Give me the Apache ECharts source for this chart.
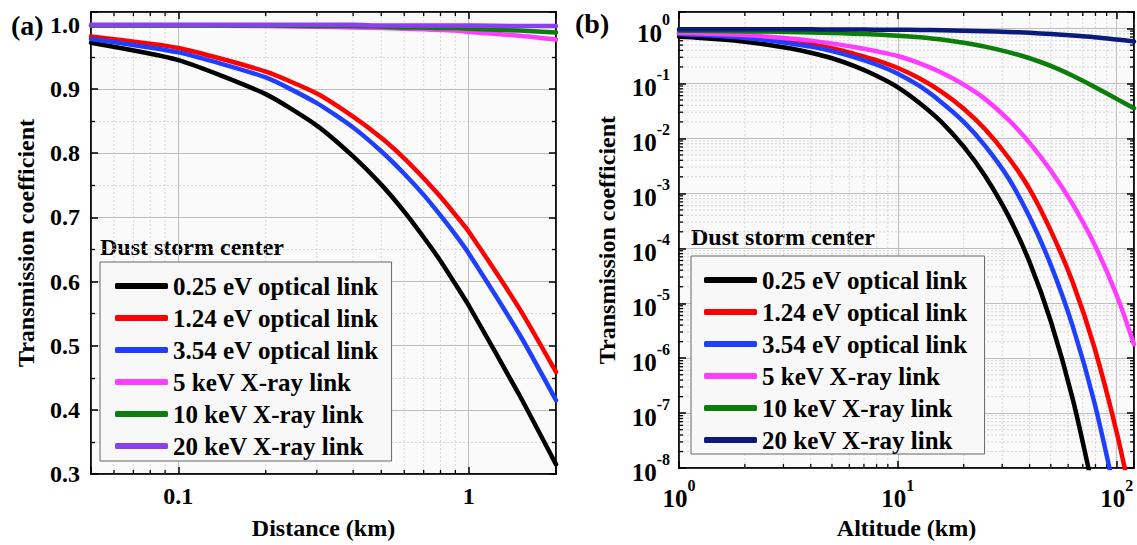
<!DOCTYPE html>
<html>
<head>
<meta charset="utf-8">
<title>Transmission coefficient</title>
<script src="https://cdn.jsdelivr.net/npm/echarts@6/dist/echarts.min.js"></script>
<style>
  html, body { margin: 0; padding: 0; background: #fff; }
  #chart { width: 1137px; height: 545px; }
</style>
</head>
<body>
<div id="chart"></div>
<script>
var FONT = '"Liberation Serif", "Times New Roman", serif';

// (a) transmission vs distance, dust storm center
var distKm   = [0.05, 0.1, 0.2, 0.3, 0.4, 0.5, 0.6, 0.7, 0.8, 0.9, 1, 1.5, 2];
var distT025 = [0.972, 0.945, 0.892, 0.843, 0.795, 0.751, 0.709, 0.669, 0.632, 0.596, 0.563, 0.422, 0.315];
var distT124 = [0.982, 0.964, 0.927, 0.893, 0.857, 0.824, 0.792, 0.761, 0.732, 0.704, 0.678, 0.557, 0.459];
var distT354 = [0.978, 0.957, 0.918, 0.878, 0.840, 0.803, 0.768, 0.735, 0.703, 0.673, 0.644, 0.517, 0.415];
var distT5k  = [0.999, 0.999, 0.998, 0.997, 0.996, 0.995, 0.994, 0.993, 0.992, 0.991, 0.989, 0.983, 0.977];
var distT10k = [0.999, 0.999, 0.999, 0.998, 0.998, 0.997, 0.996, 0.996, 0.995, 0.995, 0.994, 0.991, 0.988];
var distT20k = [1.000, 1.000, 1.000, 1.000, 1.000, 0.999, 0.999, 0.999, 0.999, 0.999, 0.999, 0.998, 0.998];

// (b) transmission vs altitude (read at roughly even steps on the log axis)
var altKm   = [1, 1.26, 1.58, 2, 2.5, 3.2, 4, 5, 6.3, 7.9, 10, 12.6, 15.8, 20, 25, 32, 40, 50, 63, 79, 100, 120];
var altT025 = [0.708, 0.676, 0.631, 0.575, 0.513, 0.437, 0.363, 0.288, 0.209, 0.141, 0.0851, 0.0437, 0.0200, 7.1e-3, 2.1e-3, 3.9e-4, 5.6e-5, 4.7e-6, 1.8e-7, 3.2e-9];
var altT124 = [0.832, 0.794, 0.759, 0.724, 0.668, 0.596, 0.519, 0.437, 0.347, 0.269, 0.191, 0.123, 0.0708, 0.0347, 0.0148, 4.5e-3, 1.2e-3, 2.1e-4, 2.4e-5, 1.6e-6, 4.5e-8, 1.6e-9];
var altT354 = [0.794, 0.759, 0.724, 0.676, 0.617, 0.537, 0.468, 0.389, 0.302, 0.224, 0.151, 0.0891, 0.0457, 0.0200, 7.4e-3, 1.9e-3, 3.7e-4, 5.0e-5, 3.8e-6, 1.6e-7, 2.5e-9];
var altT5k  = [0.832, 0.813, 0.785, 0.759, 0.716, 0.661, 0.603, 0.537, 0.462, 0.389, 0.316, 0.232, 0.158, 0.0955, 0.0525, 0.0219, 8.3e-3, 2.6e-3, 6.3e-4, 1.2e-4, 1.4e-5, 1.8e-6];
var altT10k = [0.912, 0.908, 0.902, 0.891, 0.881, 0.867, 0.851, 0.832, 0.807, 0.778, 0.741, 0.692, 0.631, 0.550, 0.468, 0.372, 0.288, 0.209, 0.138, 0.0871, 0.0525, 0.0355];
var altT20k = [0.972, 0.971, 0.970, 0.970, 0.969, 0.968, 0.966, 0.963, 0.960, 0.955, 0.949, 0.942, 0.931, 0.912, 0.893, 0.866, 0.836, 0.794, 0.746, 0.695, 0.631, 0.582];

var linkNames = ['0.25 eV optical link', '1.24 eV optical link', '3.54 eV optical link',
                 '5 keV X-ray link', '10 keV X-ray link', '20 keV X-ray link'];
var colorsA = ['#000000', '#ff0000', '#1f3fff', '#ff3cff', '#0b7d0b', '#8a3ff0'];
var colorsB = ['#000000', '#ff0000', '#1f3fff', '#ff3cff', '#0b7d0b', '#0b1a7d'];

// axis ranges
var A_X = [0.05, 2], A_Y = [0.3, 1.02];
var B_X = [1, 120],  B_Y = [1e-8, 2];

// minor tick positions of the log axes
var distMinor = [0.06, 0.07, 0.08, 0.09, 0.2, 0.3, 0.4, 0.5, 0.6, 0.7, 0.8, 0.9];
var altMinor = [2, 3, 4, 5, 6, 7, 8, 9, 20, 30, 40, 50, 60, 70, 80, 90];
var tMinor = [];
for (var k = -8; k < 0; k++) {
    for (var m = 2; m <= 9; m++) tMinor.push(m * Math.pow(10, k));
}

function pairs(xs, ys) {
    return ys.map(function (y, i) { return [xs[i], y]; });
}

function isPow10(v) {
    var l = Math.log10(v);
    return Math.abs(l - Math.round(l)) < 1e-6;
}

// minor grid + inward minor ticks, placed through the axes
function vMinor(yr) {
    return function (params, api) {
        var x = api.value(0);
        var lo = api.coord([x, yr[0]]), hi = api.coord([x, yr[1]]);
        return { type: 'group', children: [
            { type: 'line', shape: { x1: lo[0], y1: lo[1], x2: hi[0], y2: hi[1] }, style: { stroke: '#d6d6d6', lineWidth: 1, lineDash: [2, 2] } },
            { type: 'line', shape: { x1: lo[0], y1: lo[1], x2: lo[0], y2: lo[1] - 4 }, style: { stroke: '#000', lineWidth: 1.3 } },
            { type: 'line', shape: { x1: hi[0], y1: hi[1], x2: hi[0], y2: hi[1] + 4 }, style: { stroke: '#000', lineWidth: 1.3 } }
        ]};
    };
}
function hMinor(xr) {
    return function (params, api) {
        var y = api.value(1);
        var lo = api.coord([xr[0], y]), hi = api.coord([xr[1], y]);
        return { type: 'group', children: [
            { type: 'line', shape: { x1: lo[0], y1: lo[1], x2: hi[0], y2: hi[1] }, style: { stroke: '#d6d6d6', lineWidth: 1, lineDash: [2, 2] } },
            { type: 'line', shape: { x1: lo[0], y1: lo[1], x2: lo[0] + 4, y2: lo[1] }, style: { stroke: '#000', lineWidth: 1.3 } },
            { type: 'line', shape: { x1: hi[0], y1: hi[1], x2: hi[0] - 4, y2: hi[1] }, style: { stroke: '#000', lineWidth: 1.3 } }
        ]};
    };
}

var tickStyle = { show: true, inside: true, length: 7, lineStyle: { color: '#000', width: 1.5 } };
var lineAxis = { show: true, lineStyle: { color: '#000', width: 1.5 } };
var majorGrid = { show: true, lineStyle: { color: '#bdbdbd', width: 1 } };
var labelFont = { fontFamily: FONT, fontWeight: 'bold', fontSize: 24, color: '#000' };
var nameFont = { fontFamily: FONT, fontWeight: 'bold', fontSize: 24, color: '#000' };
var powRich = {
    b: { fontFamily: FONT, fontWeight: 'bold', fontSize: 25, color: '#000', padding: [9, 0, 0, 0] },
    s: { fontFamily: FONT, fontWeight: 'bold', fontSize: 16, color: '#000', verticalAlign: 'top' }
};
function powLabel(v) {
    if (!isPow10(v)) return '';
    return '{b|10}{s|' + Math.round(Math.log10(v)) + '}';
}

var series = [];
var dataA = [distT025, distT124, distT354, distT5k, distT10k, distT20k];
var dataB = [altT025, altT124, altT354, altT5k, altT10k, altT20k];

series.push({ type: 'custom', xAxisIndex: 0, yAxisIndex: 0, silent: true, z: 1,
    renderItem: vMinor(A_Y), data: distMinor.map(function (v) { return [v, A_Y[0]]; }) });
series.push({ type: 'custom', xAxisIndex: 2, yAxisIndex: 2, silent: true, z: 1,
    renderItem: vMinor(B_Y), data: altMinor.map(function (v) { return [v, B_Y[0]]; }) });
series.push({ type: 'custom', xAxisIndex: 2, yAxisIndex: 2, silent: true, z: 1,
    renderItem: hMinor(B_X), data: tMinor.map(function (v) { return [B_X[0], v]; }) });

for (var i = 0; i < linkNames.length; i++) {
    series.push({
        name: 'a|' + linkNames[i], type: 'line', xAxisIndex: 0, yAxisIndex: 0, z: 3,
        showSymbol: false, symbol: 'none', clip: true, smooth: 0.2,
        color: colorsA[i], lineStyle: { width: 4.5, color: colorsA[i], cap: 'round' },
        data: pairs(distKm, dataA[i])
    });
}
for (var j = 0; j < linkNames.length; j++) {
    series.push({
        name: 'b|' + linkNames[j], type: 'line', xAxisIndex: 2, yAxisIndex: 2, z: 3,
        showSymbol: false, symbol: 'none', clip: true, smooth: 0.3,
        color: colorsB[j], lineStyle: { width: 4.5, color: colorsB[j], cap: 'round' },
        data: pairs(altKm, dataB[j])
    });
}

function legendFor(prefix, left, top, pad) {
    return {
        orient: 'vertical', left: left, top: top, padding: pad,
        backgroundColor: '#f8f8f8', borderColor: '#666', borderWidth: 1,
        itemWidth: 53, itemHeight: 6, itemGap: 6, icon: 'roundRect',
        selectedMode: false,
        textStyle: { fontFamily: FONT, fontWeight: 'bold', fontSize: 25, lineHeight: 26, color: '#000' },
        formatter: function (name) { return name.slice(2); },
        data: linkNames.map(function (n) { return prefix + n; })
    };
}

var option = {
    animation: false,
    backgroundColor: '#ffffff',
    grid: [
        { left: 91, top: 12, width: 465, height: 462, show: true, backgroundColor: '#fafafa', borderColor: '#000', borderWidth: 1.5 },
        { left: 679, top: 12, width: 457, height: 462, show: true, backgroundColor: '#fafafa', borderColor: '#000', borderWidth: 1.5 }
    ],
    xAxis: [
        { gridIndex: 0, type: 'log', min: A_X[0], max: A_X[1], position: 'bottom',
          axisLine: lineAxis, axisTick: tickStyle, splitLine: majorGrid,
          axisLabel: Object.assign({ margin: 10, formatter: function (v) { return isPow10(v) ? String(+v.toPrecision(3)) : ''; } }, labelFont),
          name: 'Distance (km)', nameLocation: 'middle', nameGap: 42, nameTextStyle: nameFont },
        { gridIndex: 0, type: 'log', min: A_X[0], max: A_X[1], position: 'top',
          axisLine: lineAxis, axisTick: tickStyle, splitLine: { show: false }, axisLabel: { show: false } },
        { gridIndex: 1, type: 'log', min: B_X[0], max: B_X[1], position: 'bottom',
          axisLine: lineAxis, axisTick: tickStyle, splitLine: majorGrid,
          axisLabel: { margin: 9, formatter: powLabel, rich: powRich },
          name: 'Altitude (km)', nameLocation: 'middle', nameGap: 46, nameTextStyle: nameFont },
        { gridIndex: 1, type: 'log', min: B_X[0], max: B_X[1], position: 'top',
          axisLine: lineAxis, axisTick: tickStyle, splitLine: { show: false }, axisLabel: { show: false } }
    ],
    yAxis: [
        { gridIndex: 0, type: 'value', min: A_Y[0], max: A_Y[1], interval: 0.1, position: 'left',
          axisLine: lineAxis, axisTick: tickStyle, splitLine: majorGrid,
          minorTick: { show: true, splitNumber: 2, length: 4, lineStyle: { color: '#000', width: 1.3 } },
          minorSplitLine: { show: true, lineStyle: { color: '#d6d6d6', width: 1, type: [2, 2] } },
          axisLabel: Object.assign({ margin: 11, formatter: function (v) { return v > 1.005 ? '' : v.toFixed(1); } }, labelFont),
          name: 'Transmission coefficient', nameLocation: 'middle', nameGap: 53, nameRotate: 90, nameTextStyle: nameFont },
        { gridIndex: 0, type: 'value', min: A_Y[0], max: A_Y[1], interval: 0.1, position: 'right',
          axisLine: lineAxis, axisTick: tickStyle, splitLine: { show: false },
          minorTick: { show: true, splitNumber: 2, length: 4, lineStyle: { color: '#000', width: 1.3 } },
          axisLabel: { show: false } },
        { gridIndex: 1, type: 'log', min: B_Y[0], max: B_Y[1], position: 'left',
          axisLine: lineAxis, axisTick: tickStyle, splitLine: majorGrid,
          axisLabel: { margin: 9, formatter: powLabel, rich: powRich },
          name: 'Transmission coefficient', nameLocation: 'middle', nameGap: 60, nameRotate: 90, nameTextStyle: nameFont },
        { gridIndex: 1, type: 'log', min: B_Y[0], max: B_Y[1], position: 'right',
          axisLine: lineAxis, axisTick: tickStyle, splitLine: { show: false }, axisLabel: { show: false } }
    ],
    legend: [
        legendFor('a|', 100, 262, [11, 13, 2, 15]),
        legendFor('b|', 691, 256, [11, 17, 1, 13])
    ],
    graphic: [
        { type: 'text', x: 11, y: 25, style: { text: '(a)', fontFamily: FONT, fontWeight: 'bold', fontSize: 28, fill: '#000', verticalAlign: 'middle' } },
        { type: 'text', x: 575, y: 23, style: { text: '(b)', fontFamily: FONT, fontWeight: 'bold', fontSize: 28, fill: '#000', verticalAlign: 'middle' } },
        { type: 'text', x: 100, y: 247, style: { text: 'Dust storm center', fontFamily: FONT, fontWeight: 'bold', fontSize: 24, fill: '#000', verticalAlign: 'middle' } },
        { type: 'text', x: 691, y: 237, style: { text: 'Dust storm center', fontFamily: FONT, fontWeight: 'bold', fontSize: 24, fill: '#000', verticalAlign: 'middle' } }
    ],
    series: series
};

var myChart = echarts.init(document.getElementById('chart'), null, { renderer: 'svg' });
myChart.setOption(option);
</script>
</body>
</html>
